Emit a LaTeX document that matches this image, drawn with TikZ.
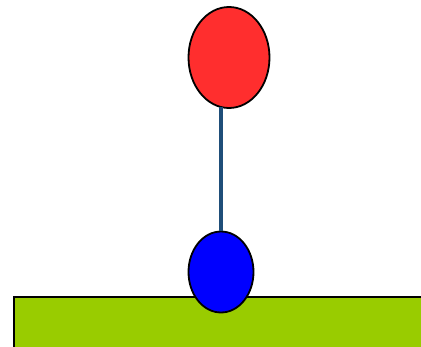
\documentclass[tikz,border=0pt]{standalone}
\usetikzlibrary{shapes.geometric}
\definecolor{balloonred}{HTML}{FF2E2E}
\definecolor{baseblue}{HTML}{0000FF}
\definecolor{groundgreen}{HTML}{99CC00}
\definecolor{stringblue}{HTML}{1F4E79}
\begin{document}
\begin{tikzpicture}[x=1pt,y=-1pt,
  ballshape/.style={ellipse, draw=black, line width=1.8pt, inner sep=0pt},
  groundbox/.style={rectangle, draw=black, fill=groundgreen, line width=2pt, inner sep=0pt, anchor=north west},
  stringline/.style={draw=stringblue, line width=3.2pt}]
\useasboundingbox (0,0) rectangle (421,346);
\begin{scope}
\clip (0,0) rectangle (421,346);
\node[groundbox, minimum width=430pt, minimum height=80pt] (ground) at (13,296) {};
\end{scope}
\node[ballshape, fill=balloonred, minimum width=81pt, minimum height=101pt] (balloon) at (229,57.5) {};
\node[ballshape, fill=baseblue, minimum width=65pt, minimum height=81pt] (base) at (221,272) {};
\coordinate (top) at (base.north |- balloon.south);
\draw[stringline] (base.north) -- ([yshift=2pt]top);
\end{tikzpicture}
\end{document}
